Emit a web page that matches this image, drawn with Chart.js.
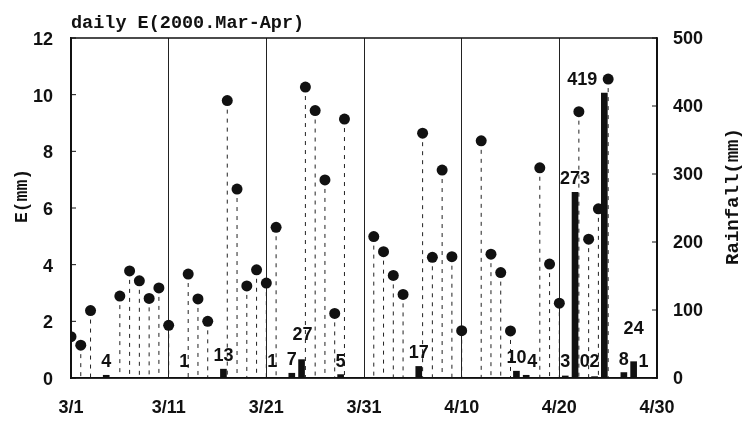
<!DOCTYPE html>
<html><head><meta charset="utf-8">
<script src="https://cdn.jsdelivr.net/npm/chart.js@4/dist/chart.umd.min.js"></script>
<style>html,body{margin:0;padding:0;background:#fff;}canvas{display:block}</style>
</head><body>
<canvas id="c" width="749" height="422"></canvas>
<script>
const chartTitle = 'daily E(2000.Mar-Apr)';
const leftAxisTitle = 'E(mm)';
const rightAxisTitle = 'Rainfall(mm)';
const xTickLabels = ['3/1','3/11','3/21','3/31','4/10','4/20','4/30'];
// day index: 0 = 3/1 ... 60 = 4/30
const eDays = [0,1,2,5,6,7,8,9,10,12,13,14,16,17,18,19,20,21,24,25,26,27,28,31,32,33,34,36,37,38,39,40,42,43,44,45,48,49,50,52,53,54,55];
const eValues = [1.46,1.16,2.38,2.89,3.78,3.43,2.81,3.18,1.86,3.67,2.79,2.0,9.79,6.67,3.25,3.82,3.35,5.32,10.27,9.44,6.99,2.28,9.14,4.99,4.46,3.62,2.95,8.64,4.26,7.34,4.28,1.67,8.37,4.37,3.72,1.66,7.42,4.02,2.64,9.40,4.90,5.97,10.55];
const rainDays = [3,11,15,20,22,23,27,35,45,46,50,51,52,53,54,56,57,58];
const rainValues = [4,1,13,1,7,27,5,17,10,4,3,273,0,2,419,8,24,1];

const INK = '#111';
const SANS = '"Liberation Sans", Arial, sans-serif';
const MONO = '"Liberation Mono", "DejaVu Sans Mono", monospace';

const decor = {
  id: 'decor',
  beforeDatasetsDraw(chart, args, opts) {
    const ctx = chart.ctx;
    const y0 = chart.scales.y.getPixelForValue(0);
    const meta = chart.getDatasetMeta(0);
    ctx.save();
    ctx.strokeStyle = '#222';
    ctx.lineWidth = 1;
    ctx.setLineDash([4, 5]);
    meta.data.forEach(el => {
      ctx.beginPath();
      ctx.moveTo(el.x, el.y);
      ctx.lineTo(el.x, y0);
      ctx.stroke();
    });
    ctx.restore();
  },
  afterDatasetsDraw(chart, args, opts) {
    const ctx = chart.ctx;
    const a = chart.chartArea;
    ctx.save();
    ctx.strokeStyle = INK;
    ctx.lineWidth = 1.5;
    ctx.strokeRect(a.left, a.top, a.right - a.left, a.bottom - a.top);
    ctx.lineWidth = 1;
    chart.scales.y.ticks.forEach(t => {
      const py = chart.scales.y.getPixelForValue(t.value);
      ctx.beginPath(); ctx.moveTo(a.left, py); ctx.lineTo(a.left + 5, py); ctx.stroke();
    });
    chart.scales.y2.ticks.forEach(t => {
      const py = chart.scales.y2.getPixelForValue(t.value);
      ctx.beginPath(); ctx.moveTo(a.right, py); ctx.lineTo(a.right - 5, py); ctx.stroke();
    });
    const zeroY = chart.scales.y2.getPixelForValue(0);
    const bmeta = chart.getDatasetMeta(1);
    ctx.fillStyle = INK;
    ctx.font = 'bold 18px ' + SANS;
    ctx.textAlign = 'center';
    ctx.textBaseline = 'alphabetic';
    bmeta.data.forEach((el, i) => {
      const day = rainDays[i];
      const n = opts.nudge[day] || [0, 0];
      const yb = Math.min(el.y - 8, zeroY - 11) + n[1];
      ctx.fillText(String(rainValues[i]), el.x + n[0], yb);
    });
    ctx.font = 'bold 18.5px ' + MONO;
    ctx.textAlign = 'left';
    ctx.fillText(chartTitle, a.left, 28);
    ctx.font = 'bold 18px ' + MONO;
    ctx.textAlign = 'center';
    ctx.save();
    ctx.translate(27, 196);
    ctx.rotate(-Math.PI / 2);
    ctx.fillText(leftAxisTitle, 0, 0);
    ctx.restore();
    ctx.save();
    ctx.font = 'bold 19px ' + MONO;
    ctx.translate(738, 196.5);
    ctx.rotate(-Math.PI / 2);
    ctx.fillText(rightAxisTitle, 0, 0);
    ctx.restore();
    ctx.restore();
  }
};

const tickFont = { family: SANS, size: 18, weight: 'bold' };

new Chart(document.getElementById('c'), {
  data: {
    datasets: [
      {
        type: 'scatter',
        label: 'E',
        data: eDays.map((d, i) => ({ x: d, y: eValues[i] })),
        xAxisID: 'x', yAxisID: 'y',
        pointRadius: 5.5, pointHoverRadius: 5.5,
        backgroundColor: INK, borderWidth: 0,
        order: 1
      },
      {
        type: 'bar',
        label: 'Rainfall',
        data: rainDays.map((d, i) => ({ x: d, y: rainValues[i] })),
        xAxisID: 'xb', yAxisID: 'y2',
        barThickness: 6,
        backgroundColor: INK, borderWidth: 0,
        order: 2
      }
    ]
  },
  options: {
    responsive: false,
    animation: false,
    events: [],
    layout: { padding: { top: 38, left: 0, right: 0, bottom: 0 } },
    plugins: {
      legend: { display: false },
      tooltip: { enabled: false },
      decor: { nudge: { 23: [1, -12], 46: [6, 0], 54: [-22, 0], 57: [0, -20] } }
    },
    scales: {
      x: {
        type: 'linear', position: 'bottom', min: 0, max: 60, offset: false,
        ticks: {
          stepSize: 10, color: INK, font: tickFont, padding: 19, maxRotation: 0,
          callback: v => xTickLabels[Math.round(v / 10)]
        },
        grid: { color: '#222', lineWidth: 1, drawTicks: false, drawOnChartArea: true },
        border: { display: true, color: INK, width: 1.5 },
        afterFit: s => { s.height = 44; }
      },
      xb: {
        type: 'linear', position: 'bottom', min: -0.3, max: 59.7, offset: false,
        display: false
      },
      y: {
        type: 'linear', position: 'left', min: 0, max: 12,
        ticks: { stepSize: 2, color: INK, font: tickFont, padding: 18, labelOffset: 2 },
        grid: { display: false, drawTicks: false },
        border: { display: true, color: INK, width: 1.5 },
        afterFit: s => { s.width = 71; }
      },
      y2: {
        type: 'linear', position: 'right', min: 0, max: 500,
        ticks: { stepSize: 100, color: INK, font: tickFont, padding: 16, labelOffset: 1 },
        grid: { display: false, drawTicks: false },
        border: { display: true, color: INK, width: 1.5 },
        afterFit: s => { s.width = 92; }
      }
    }
  },
  plugins: [decor]
});
</script>
</body></html>
